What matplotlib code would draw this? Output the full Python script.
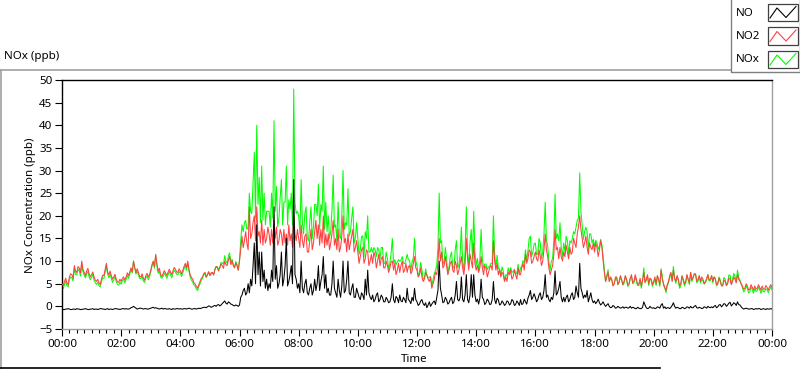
import numpy as np
import matplotlib
matplotlib.use("Agg")
import matplotlib.pyplot as plt
from matplotlib.ticker import MultipleLocator, FuncFormatter
from matplotlib.lines import Line2D
from matplotlib.patches import Rectangle

# ---- data: readings on the 5-minute marks (00:00 .. 24:00, one row per hour) ----
no2_vals = [
    5.0,5.5,5.2,6.5,7.0,9.0,7.5,8.5,10.0,7.5,7.8,7.2,
    7.0,6.5,5.5,5.2,6.0,6.8,9.5,7.0,6.8,6.5,6.0,5.3,
    5.5,6.5,6.5,6.8,8.5,10.0,7.5,7.5,6.5,6.2,6.8,6.5,
    8.0,10.0,11.5,7.8,7.0,7.2,7.4,7.5,7.6,7.8,8.2,7.5,
    7.8,8.0,9.5,10.0,7.0,6.0,5.0,4.0,5.5,6.5,7.5,7.0,
    6.8,7.5,8.0,8.5,8.5,9.0,10.0,9.0,11.0,10.0,8.5,9.0,
    10,15.5,14.5,14,22,16,20,22,16.5,19,17,15,
    16,17,19,17.5,14.5,16,17,16,18,16,20,14.5,
    15,18,13,16,12,17,14,19,18,17,20,16,
    16,14,19,15,17,13,20,15,16,14,17,13,
    12,11,13,10.5,12,10,9.5,11,10,9,11,8.5,
    9,8.5,10,9.5,8,7.5,10,8,7.5,9,7.8,11,
    8,7,6.5,6,7,5.5,4,6,7,15,12,9,
    9,8,10,7.5,9,8,11,7,15,8,10,14,
    8,7.5,11,7,8.5,7.5,9,14.5,8,7,6.5,7,
    6.5,7.5,8,6.5,7,8.5,7,9.5,11.5,10.5,12,10,
    12,10,11,10,16,11,7,9,17,13,13,10,
    11,12,13,12,14,16,20,15,14,13,14,12.5,
    12,13,12.5,13,7.5,6.5,5.5,6,5,6.5,5.5,6,
    5.5,6,5,7,5.5,6,5,4.5,7.5,6,5,6,
    5.5,5,6,8,5,3.5,5.5,7.5,8,5.5,6,5,
    6,5.5,6,7.5,6.5,7,6,5.5,6,5.5,7,6,
    5.5,6,5,5.5,4.5,5.5,5,6,5.5,6,7,5.5,
    4.5,4,4.5,3.8,4.2,4.5,4,4.2,4.5,3.8,4.2,4.3,
    4.2,
]
# readings half-way between the 5-minute marks (hh:02.5, hh:07.5, ...)
no2_mid = [
    4.6,6.2,4.8,7.2,6.2,7.8,8.8,7.4,8.2,6.8,8.4,6.5,
    7.6,5.8,6.0,4.8,6.9,8.2,7.6,7.8,6.0,7.1,5.4,6.0,
    6.2,5.8,7.4,7.6,7.6,8.6,8.3,6.6,7.2,5.8,7.3,7.0,
    9.2,8.8,9.4,8.4,6.6,7.9,6.8,8.2,7.0,8.6,7.6,8.3,
    7.2,8.8,8.6,8.2,6.4,5.2,4.4,4.8,6.2,7.2,6.6,7.6,
    7.4,6.9,8.8,7.8,9.4,8.4,9.2,10.2,9.2,9.0,9.6,8.0,
    12.5,13.0,16.5,12.5,15.0,18.5,14.5,15.5,14.0,13.5,14.0,17.5,
    13.5,14.0,15.0,13.5,17.0,13.5,14.0,13.5,14.5,13.0,16.0,17.0,
    13.0,14.5,15.5,12.0,14.5,12.5,16.5,15.0,13.5,14.0,13.0,13.5,
    12.5,16.0,13.5,12.5,12.0,15.5,14.0,12.0,12.5,15.5,12.0,14.5,
    9.5,12.5,9.5,12.5,9.0,11.5,12.0,8.5,11.5,10.5,8.5,10.0,
    7.5,9.8,8.0,7.0,9.5,9.0,7.5,9.5,8.8,7.2,9.5,8.5,
    6.5,8.5,5.5,7.5,6.0,6.5,5.0,7.5,9.5,10.0,8.5,11.0,
    7.0,9.5,8.0,10.0,7.0,9.5,8.5,9.5,10.5,11.5,8.5,9.5,
    9.0,8.5,8.5,9.0,6.5,8.5,8.0,10.0,9.5,8.0,7.5,5.5,
    5.5,7.0,6.0,8.0,6.0,7.0,8.5,8.0,9.5,12.5,9.5,11.0,
    10.5,12.5,9.0,12.5,12.5,8.5,8.0,11.5,12.5,10.5,11.0,12.0,
    13.5,10.5,11.5,15.0,13.0,17.5,17.0,13.0,15.5,11.5,13.0,14.0,
    14.0,11.0,14.5,10.0,5.5,7.5,6.5,4.5,6.5,4.8,6.8,4.8,
    6.8,4.8,6.2,5.2,7.0,4.8,6.2,5.8,5.2,7.0,6.2,4.8,
    6.5,6.8,4.8,6.0,4.2,4.8,6.8,5.5,6.2,6.8,4.5,6.8,
    5.0,7.0,5.2,5.8,7.2,5.5,6.8,6.5,5.0,6.2,5.8,6.8,
    6.5,4.8,6.2,4.6,5.8,4.6,6.2,4.8,6.5,5.2,6.0,5.0,
    3.8,5.0,3.6,4.8,3.6,3.8,4.8,3.6,3.8,4.6,3.6,4.8,
]

no_vals = [
    -0.6,-0.7,-0.6,-0.6,-0.7,-0.6,-0.5,-0.6,-0.7,-0.6,-0.6,-0.7,
    -0.6,-0.7,-0.6,-0.6,-0.5,-0.6,-0.6,-0.7,-0.6,-0.6,-0.5,-0.6,
    -0.6,-0.5,-0.5,-0.6,-0.3,0.0,-0.4,-0.5,-0.4,-0.6,-0.5,-0.6,
    -0.4,-0.2,-0.3,-0.5,-0.5,-0.6,-0.5,-0.6,-0.6,-0.5,-0.6,-0.5,
    -0.5,-0.6,-0.5,-0.5,-0.5,-0.6,-0.5,-0.5,-0.5,-0.3,-0.2,-0.1,
    0.0,-0.1,0.2,0.3,0.1,0.6,1.2,0.5,0.8,0.4,0.1,0.2,
    0.3,2.5,4,3,3,4.5,14,18,12,12,8,6,
    5,8,22,9,5,12,6,15,5.5,9,28,6,
    5,10,3,6,2.5,5,3.5,3.5,9,5.5,11,7,
    4,2.5,10,3,6,2,10,3.5,10,2.5,5,2,
    3,1.5,2.5,6,8,2,2.5,1.5,3,1.5,2,1,
    1.5,1,5,0.8,1.8,2.5,1,1.5,4,1.2,2,4,
    1,0.5,1.5,0.2,-0.3,1,0.5,1.2,2,10,2.5,1,
    1.5,0.8,2,1,5.5,1.2,6.5,1,7,0.8,7,7,
    1,0.5,6,1.5,0.8,1.2,0.5,5.5,0.6,1.4,0.5,0.8,
    0.5,1,0.6,1.2,0.4,0.8,1.5,0.6,1,1.8,3.5,2,
    2,1.5,3,2,7,2.5,1,1.5,7.8,3,5.5,1,
    1,2.5,1.5,3,2,3,9.5,3,2.5,3.5,2,1.5,
    1.2,1,0.8,0.6,0.4,0.3,0,-0.2,0,-0.3,-0.2,-0.3,
    -0.4,-0.2,-0.3,-0.4,-0.3,-0.5,-0.4,-0.5,1.0,-0.3,-0.4,-0.3,
    -0.3,-0.4,-0.2,0.3,-0.4,-0.5,-0.3,-0.2,0.8,-0.4,-0.3,-0.5,
    -0.3,-0.4,-0.2,0,-0.3,0.2,-0.4,-0.3,-0.4,-0.2,0,-0.3,
    -0.3,0.2,-0.1,0.4,0.2,0.5,0.3,0.9,0.4,0.6,1,0.3,
    -0.4,-0.5,-0.5,-0.6,-0.5,-0.6,-0.6,-0.5,-0.6,-0.6,-0.5,-0.6,
    -0.6,
]
no_mid = [
    -0.7,-0.6,-0.5,-0.7,-0.6,-0.7,-0.6,-0.7,-0.6,-0.5,-0.7,-0.6,
    -0.5,-0.6,-0.7,-0.5,-0.6,-0.7,-0.5,-0.6,-0.7,-0.5,-0.6,-0.7,
    -0.5,-0.6,-0.6,-0.5,-0.2,-0.2,-0.6,-0.4,-0.5,-0.5,-0.6,-0.5,
    -0.3,-0.4,-0.4,-0.6,-0.4,-0.5,-0.6,-0.5,-0.7,-0.6,-0.5,-0.6,
    -0.6,-0.5,-0.6,-0.4,-0.6,-0.5,-0.6,-0.4,-0.4,-0.2,-0.3,0.1,
    -0.2,0.1,0.0,0.4,0.3,0.9,0.7,1.0,0.5,0.2,0.3,0.0,
    2.0,3.5,2.5,5.0,6.0,9.0,5.0,7.0,4.5,5.5,4.0,3.5,
    4.0,5.5,6.0,4.0,7.0,4.5,9.0,4.5,7.0,5.0,7.0,4.0,
    3.0,4.0,5.0,3.0,4.0,2.5,6.0,5.0,3.5,7.0,4.0,3.0,
    2.5,5.0,4.0,2.0,3.5,4.5,3.0,6.0,3.0,4.0,2.0,4.0,
    2.0,3.0,1.5,2.5,3.0,1.5,1.0,2.5,1.0,2.5,1.0,2.0,
    0.8,2.0,1.5,2.2,0.8,1.2,2.0,0.8,1.5,0.6,1.2,1.5,
    0.2,1.2,0.6,0.8,0.3,0.0,0.9,0.4,3.5,4.0,0.8,2.0,
    0.5,1.5,0.6,2.5,1.5,2.0,1.5,2.5,1.5,2.5,2.0,2.5,
    1.6,1.8,2.0,0.4,1.6,0.4,1.5,1.5,1.8,0.3,1.2,0.2,
    1.2,0.3,1.5,0.2,1.2,0.2,0.4,1.6,0.5,2.5,1.5,2.8,
    1.0,2.5,1.5,3.5,2.0,1.5,2.0,3.0,2.5,4.0,2.0,2.0,
    2.0,1.0,2.5,1.5,4.5,2.0,4.0,1.8,2.0,1.0,3.0,0.8,
    0.6,1.6,0.3,1.0,0.0,0.6,-0.3,0.2,-0.4,0.0,-0.4,-0.1,
    -0.2,-0.4,0.0,-0.2,-0.5,-0.2,-0.5,-0.2,0.3,-0.5,0.0,-0.4,
    -0.5,-0.1,-0.4,0.6,-0.1,-0.3,-0.5,0.2,0.0,-0.2,-0.5,-0.2,
    -0.5,-0.1,-0.4,-0.3,0.0,-0.3,-0.2,-0.5,-0.1,-0.4,-0.2,-0.1,
    0.0,-0.3,0.3,-0.1,0.6,0.0,0.7,0.1,0.8,0.2,0.4,-0.1,
    -0.6,-0.4,-0.6,-0.5,-0.7,-0.5,-0.5,-0.7,-0.5,-0.7,-0.6,-0.5,
]

nox_vals = [
    4.4,4.8,4.6,5.9,6.3,8.4,7.0,7.9,9.3,6.9,7.2,6.5,
    6.4,5.8,4.9,4.6,5.5,6.2,8.9,6.3,6.2,5.9,5.5,4.7,
    4.9,6.0,6.0,6.2,8.2,10.0,7.1,7.0,6.1,5.6,6.3,5.9,
    7.6,9.8,11.2,7.3,6.5,6.6,6.9,6.9,7.0,7.3,7.6,7.0,
    7.3,7.4,9.0,9.5,6.5,5.4,4.5,3.5,5.0,6.2,7.3,6.9,
    6.8,7.4,8.2,8.8,8.6,9.6,11.2,9.5,11.8,10.4,8.6,9.2,
    10.3,18,18.5,17,25,20.5,34,40,28.5,31,25,21,
    21,25,41,26.5,19.5,28,23,31,23.5,25,48,20.5,
    20,28,16,22,14.5,22,17.5,22.5,27,22.5,31,23,
    20,16.5,29,18,23,15,30,18.5,26,16.5,22,15,
    15,12.5,15.5,16.5,20,12,12,12.5,13,10.5,13,9.5,
    10.5,9.5,15,10.3,9.8,10,11,9.5,11.5,10.2,9.8,15,
    9,7.5,8,6.2,6.7,6.5,4.5,7.2,9,25,14.5,10,
    10.5,8.8,12,8.5,14.5,9.2,17.5,8,22,8.8,17,21,
    9,8,17,8.5,9.3,8.7,9.5,20,8.6,8.4,7,7.8,
    7,8.5,8.6,7.7,7.4,9.3,8.5,10.1,12.5,12.3,15.5,12,
    14,11.5,14,12,23,13.5,8,10.5,24.8,16,18.5,11,
    12,14.5,14.5,15,16,19,29.5,18,16.5,16.5,16,14,
    13.2,14,13.3,13.6,7.9,6.8,5.5,5.8,5,6.2,5.3,5.7,
    5.1,5.8,4.7,6.6,5.2,5.5,4.6,4,8.5,5.7,4.6,5.7,
    5.2,4.6,5.8,8.3,4.6,3,5.2,7.3,8.8,5.1,5.7,4.5,
    5.7,5.1,5.8,7.5,6.2,7.2,5.6,5.2,5.6,5.3,7,5.7,
    5.2,6.2,4.9,5.9,4.7,6,5.3,6.9,5.9,6.6,8,5.8,
    4.1,3.5,4,3.2,3.7,3.9,3.4,3.7,3.9,3.2,3.7,3.7,
    3.6,
]
nox_mid = [
    3.9,5.6,4.3,6.5,5.6,7.1,8.2,6.7,7.6,6.3,7.7,5.9,
    7.1,5.2,5.3,4.3,6.3,7.5,7.1,7.2,5.3,6.6,4.8,5.3,
    5.7,5.2,6.8,7.1,7.4,8.4,7.7,6.2,6.7,5.3,6.7,6.5,
    8.9,8.4,9.0,7.8,6.2,7.4,6.2,7.7,6.3,8.0,7.1,7.7,
    6.6,8.3,8.0,7.8,5.8,4.7,3.8,4.4,5.8,7.0,6.3,7.7,
    7.2,7.0,8.8,8.2,9.7,9.3,9.9,11.2,9.7,9.2,9.9,8.0,
    14.5,16.5,19,17.5,21,27.5,19.5,22.5,18.5,19,18,21,
    17.5,19.5,21,17.5,24,18,23,18,21.5,18,23,21,
    16,18.5,20.5,15,18.5,15,22.5,20,17,21,17,16.5,
    15,21,17.5,14.5,15.5,20,17,18,15.5,19.5,14,18.5,
    11.5,15.5,11,15,12,13,13,11,12.5,13,9.5,12,
    8.3,11.8,9.5,9.2,10.3,10.2,9.5,10.3,10.3,7.8,10.7,10,
    6.7,9.7,6.1,8.3,6.3,6.5,5.9,7.9,13,14,9.3,13,
    7.5,11,8.6,12.5,8.5,11.5,10,12,12,14,10.5,12,
    10.6,10.3,10.5,9.4,8.1,8.9,9.5,11.5,11.3,8.3,8.7,5.7,
    6.7,7.3,7.5,8.2,7.2,7.2,8.9,9.6,10,15,11,13.8,
    11.5,15,10.5,16,14.5,10,10,14.5,15,14.5,13,14,
    15.5,11.5,14,16.5,17.5,19.5,21,14.8,17.5,12.5,16,14.8,
    14.6,12.6,14.8,11,5.5,8.1,6.2,4.7,6.1,4.8,6.4,4.7,
    6.6,4.4,6.2,5.0,6.5,4.6,5.7,5.6,5.5,6.5,6.2,4.4,
    6.0,6.7,4.4,6.6,4.1,4.5,6.3,5.7,6.2,6.6,4.0,6.6,
    4.5,6.9,4.8,5.5,7.2,5.2,6.6,6.0,4.9,5.8,5.6,6.7,
    6.5,4.5,6.5,4.5,6.4,4.6,6.9,4.9,7.3,5.4,6.4,4.9,
    3.2,4.6,3.0,4.3,2.9,3.3,4.3,2.9,3.3,3.9,3.0,4.3,
]

sample_minutes = 5
series_names = ["NO", "NO2", "NOx"]
x_tick_hours = list(range(0, 25, 2))
y_ticks = list(range(-5, 51, 5))


def merge(marks, mids):
    out = np.empty(len(marks) + len(mids))
    out[0::2] = marks
    out[1::2] = mids
    return out


no_series = merge(no_vals, no_mid)
no2_series = merge(no2_vals, no2_mid)
nox_series = merge(nox_vals, nox_mid)
t = np.arange(len(no_series)) * (sample_minutes / 2) / 60.0

# ---- figure ----
W, H = 800, 369
fig = plt.figure(figsize=(W / 100, H / 100), dpi=100)
fig.patch.set_facecolor("white")
FONT = "Noto Sans"
FS = 8.3


def fx(px):
    return px / W


def fy(py):
    return 1 - py / H


ax = fig.add_axes([fx(62), fy(329), fx(772) - fx(62), fy(80) - fy(329)])

c_no, c_no2, c_nox = "#000000", "#ff4040", "#00ff00"
ax.plot(t, nox_series, color=c_nox, lw=0.75, zorder=2)
ax.plot(t, no2_series, color=c_no2, lw=0.75, zorder=3)
ax.plot(t, no_series, color=c_no, lw=0.75, zorder=4)

ax.set_xlim(0, 24)
ax.set_ylim(-5, 50)
ax.set_xticks(x_tick_hours)
ax.xaxis.set_minor_locator(MultipleLocator(0.25))
ax.xaxis.set_major_formatter(FuncFormatter(lambda v, p: "%02d:00" % (int(round(v)) % 24)))
ax.set_yticks(y_ticks)
ax.tick_params(axis="both", direction="out", labelsize=FS, colors="black",
               width=0.8, length=5, pad=2)
ax.tick_params(axis="x", which="minor", length=3, width=0.8)
for lab in ax.get_xticklabels() + ax.get_yticklabels():
    lab.set_fontfamily(FONT)

for s in ["left", "top"]:
    ax.spines[s].set_color("black")
    ax.spines[s].set_linewidth(1.0)
for s in ["right", "bottom"]:
    ax.spines[s].set_color("#a0a0a0")
    ax.spines[s].set_linewidth(1.0)

fig.text(fx(31), fy(205), "NOx Concentration (ppb)", rotation=90, ha="center",
         va="center", fontsize=FS, family=FONT)
fig.text(fx(414), fy(360), "Time", ha="center", va="center", fontsize=FS, family=FONT)
fig.text(fx(4), fy(57), "NOx (ppb)", ha="left", va="center", fontsize=FS, family=FONT)

# outer frame
fig.add_artist(Line2D([fx(0), fx(731)], [fy(69.5), fy(69.5)], color="#a0a0a0", lw=1.2))
fig.add_artist(Line2D([fx(1), fx(1)], [fy(69.5), fy(367.5)], color="#a0a0a0", lw=1.2))
fig.add_artist(Line2D([fx(0), fx(660)], [fy(367.5), fy(367.5)], color="black", lw=1.2))

# legend (top right)
fig.add_artist(Line2D([fx(730.5), fx(730.5), fx(799.5), fx(799.5)],
                      [fy(0), fy(71.5), fy(71.5), fy(0)], color="#808080", lw=1.0))
legend_colors = [c_no, c_no2, c_nox]
for i, (name, col) in enumerate(zip(series_names, legend_colors)):
    y0 = 4 + i * 23.5
    fig.text(fx(736), fy(y0 + 9), name, ha="left", va="center", fontsize=FS, family=FONT)
    fig.add_artist(Rectangle((fx(768), fy(y0 + 17)), fx(798) - fx(768), fy(y0) - fy(y0 + 17),
                             fill=False, edgecolor="#404040", lw=0.9, transform=fig.transFigure))
    fig.add_artist(Line2D([fx(770), fx(777), fx(786), fx(796)],
                          [fy(y0 + 14), fy(y0 + 4), fy(y0 + 13.5), fy(y0 + 2.5)],
                          color=col, lw=0.8))

fig.savefig("out.png", dpi=100, facecolor="white")
